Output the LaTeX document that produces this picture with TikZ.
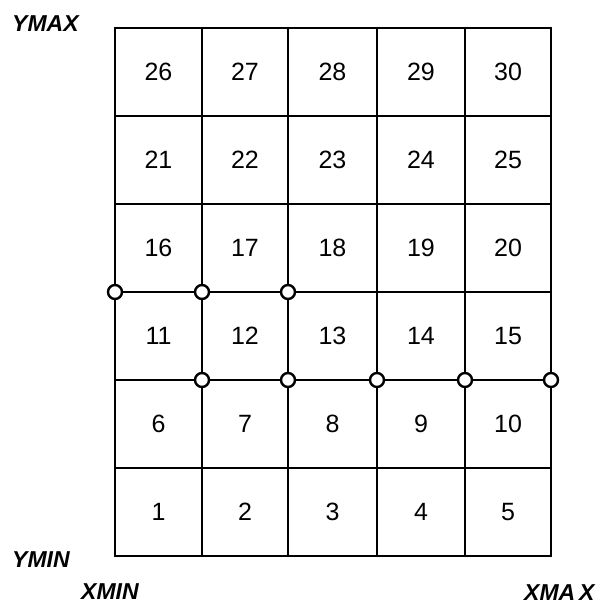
\documentclass[tikz,border=0pt]{standalone}
\usepackage{fontspec}
\setmainfont{Liberation Sans}
\begin{document}
\begin{tikzpicture}[x=1pt,y=-1pt,
  gridline/.style={line width=2.4pt,line cap=round,line join=round},
  cellnum/.style={font=\fontsize{25}{27}\selectfont,inner sep=0pt},
  axlabel/.style={font=\fontsize{23}{25}\selectfont\bfseries\itshape,inner sep=0pt},
  knot/.style={circle,draw,line width=2.4pt,fill=white,minimum size=14pt,inner sep=0pt}]
\useasboundingbox (0,0) rectangle (603,608);
% grid
\foreach \xx in {115,202,288,377,465,551}
  \draw[gridline] (\xx,28) -- (\xx,556);
\foreach \yy in {28,116,204,292,380,468,556}
  \draw[gridline] (115,\yy) -- (551,\yy);
% cell numbers
\foreach \cy [count=\r from 0] in {512,424,336,248,160,72} {
  \foreach \cx [count=\c from 1] in {158.5,245,332.5,421,508} {
    \pgfmathtruncatemacro\n{\r*5+\c}
    \node[cellnum] (c\n) at (\cx,\cy) {\n};
  }
}
% circles
\node[knot] (k1) at (115,292) {};
\node[knot] (k2) at (202,292) {};
\node[knot] (k3) at (288,292) {};
\node[knot] (k4) at (202,380) {};
\node[knot] (k5) at (288,380) {};
\node[knot] (k6) at (377,380) {};
\node[knot] (k7) at (465,380) {};
\node[knot] (k8) at (551,380) {};
% labels
\node[axlabel,anchor=west] (ymax) at (12,24) {YMAX};
\node[axlabel,anchor=west] (ymin) at (12,560) {YMIN};
\node[axlabel,anchor=west] (xmin) at (81,592) {XMIN};
\node[axlabel,anchor=west] (xmax) at (524,593) {XMA\,X};
\end{tikzpicture}
\end{document}
